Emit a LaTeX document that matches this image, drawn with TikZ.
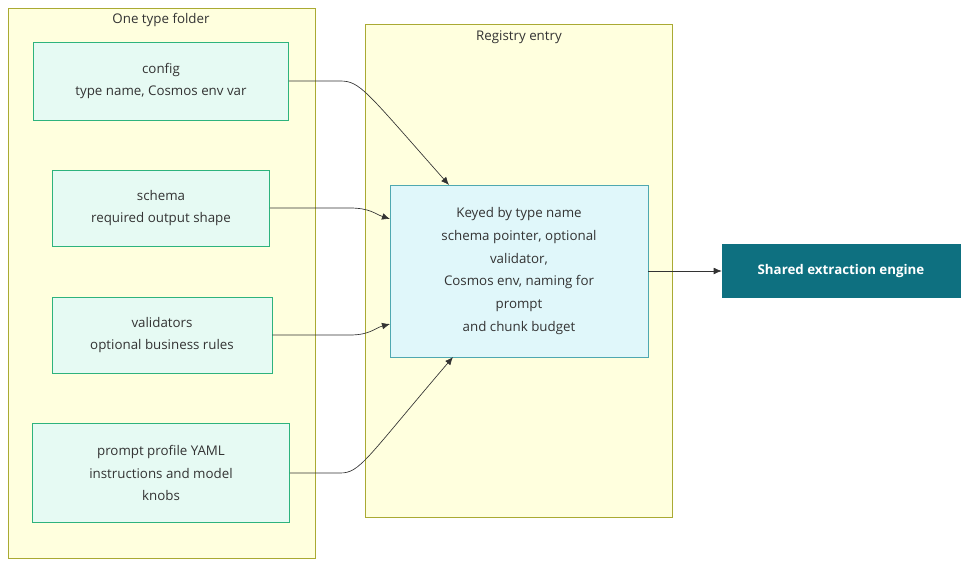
\documentclass[tikz,border=0pt]{standalone}
\usepackage{fontspec}
\setmainfont{Open Sans}
\usetikzlibrary{arrows.meta}
\definecolor{clfill}{HTML}{FFFFDE}
\definecolor{cldraw}{HTML}{AAAA33}
\definecolor{nfill}{HTML}{E6FAF3}
\definecolor{ndraw}{HTML}{2DB37D}
\definecolor{rfill}{HTML}{E0F7FA}
\definecolor{rdraw}{HTML}{4FA8B0}
\definecolor{efill}{HTML}{0E7080}
\definecolor{txt}{HTML}{333333}
\tikzset{
  cluster/.style = {draw = cldraw, fill = clfill, line width = 0.6pt},
  part/.style = {draw = ndraw, fill = nfill, text = txt, align = center, font = \fontsize{10}{17}\selectfont, inner sep = 0pt},
  wire/.style = {-{Latex[length = 6pt, width = 5pt]}, draw = txt, line width = 0.5pt}
}
\begin{document}
\begin{tikzpicture}[x = 0.75pt, y = -0.75pt]
    \useasboundingbox (0, 0) rectangle (976, 572);
    % clusters
    \draw [cluster] (8, 8) rectangle (315, 558);
    \node [text = txt, font = \fontsize{10}{12}\selectfont] (folder) at (161, 20) {One type folder};
    \draw [cluster] (365, 24) rectangle (672, 517);
    \node [text = txt, font = \fontsize{10}{12}\selectfont] (regtitle) at (519, 37) {Registry entry};
    % parts of the folder
    \node [part, minimum width = 255*0.75pt, minimum height = 78*0.75pt] (config) at (161, 81) {config\\type name, Cosmos env var};
    \node [part, minimum width = 217*0.75pt, minimum height = 76*0.75pt] (schema) at (161, 208) {schema\\required output shape};
    \node [part, minimum width = 220*0.75pt, minimum height = 76*0.75pt] (validators) at (162, 335) {validators\\optional business rules};
    \node [part, minimum width = 257*0.75pt, minimum height = 99*0.75pt] (prompt) at (161, 473) {prompt profile YAML\\instructions and model\\knobs};
    % registry and engine
    \node [part, draw = rdraw, fill = rfill, minimum width = 258*0.75pt, minimum height = 172*0.75pt] (registry) at (519, 271) {Keyed by type name\\schema pointer, optional\\validator,\\Cosmos env, naming for\\prompt\\and chunk budget};
    \node [part, draw = efill, fill = efill, text = white, font = \fontsize{10}{12}\selectfont\bfseries, minimum width = 238*0.75pt, minimum height = 53*0.75pt] (engine) at (841, 271) {Shared extraction engine};
    % connectors
    \draw [wire] (config.east) -- (340, 81) .. controls (360, 81) and (365, 90) .. (449, 185);
    \draw [wire] (schema.east) -- (350, 208) .. controls (370, 208) and (375, 214) .. (390, 219);
    \draw [wire] (validators.east) -- (350, 335) .. controls (370, 335) and (375, 328) .. (390, 324);
    \draw [wire] (prompt.east) -- (340, 473) .. controls (360, 473) and (365, 460) .. (453, 357);
    \draw [wire] (registry.east) -- (engine.west);
\end{tikzpicture}
\end{document}
